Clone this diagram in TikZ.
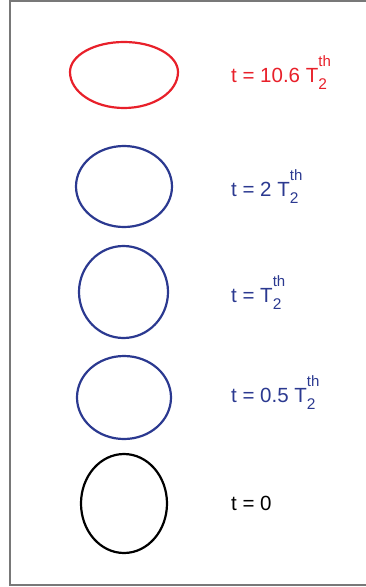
\documentclass[tikz,border=0pt]{standalone}
\usepackage{fontspec}
\setmainfont{Liberation Sans}
\definecolor{eggred}{RGB}{232,32,42}
\definecolor{eggblue}{RGB}{43,57,144}
\definecolor{framegray}{RGB}{120,120,120}
\newcommand{\Tth}{T\rlap{\raisebox{-7pt}{\fontsize{15.5}{16}\selectfont 2}}\raisebox{16pt}{\fontsize{15}{16}\selectfont th}}
\begin{document}
\begin{tikzpicture}[x=1pt,y=-1pt,
  curve/.style={line width=2.2pt},
  lab/.style={anchor=base west,inner sep=0pt,font=\fontsize{20.5}{22}\selectfont}]
\useasboundingbox (0,0) rectangle (365,587);
\draw[framegray,line width=1.4pt] (370,1) -- (10,1) -- (10,585) -- (370,585);
\draw[curve,eggred] (178,72) arc[start angle=0,end angle=180,x radius=54,y radius=36]
  arc[start angle=180,end angle=360,x radius=54,y radius=30] -- cycle;
\draw[curve,eggblue] (124,186.5) ellipse [x radius=48,y radius=40.5];
\draw[curve,eggblue] (123.5,292) ellipse [x radius=44.5,y radius=46];
\draw[curve,eggblue] (124,397.5) ellipse [x radius=47,y radius=41.5];
\draw[curve,black] (124,503.5) ellipse [x radius=43,y radius=49.5];
\node[lab,text=eggred] (l1) at (231,82) {t = 10.6 \Tth};
\node[lab,text=eggblue] (l2) at (231,196) {t = 2 \Tth};
\node[lab,text=eggblue] (l3) at (231,302) {t = \Tth};
\node[lab,text=eggblue] (l4) at (231,402) {t = 0.5 \Tth};
\node[lab,text=black] (l5) at (231,510) {t = 0};
\end{tikzpicture}
\end{document}
